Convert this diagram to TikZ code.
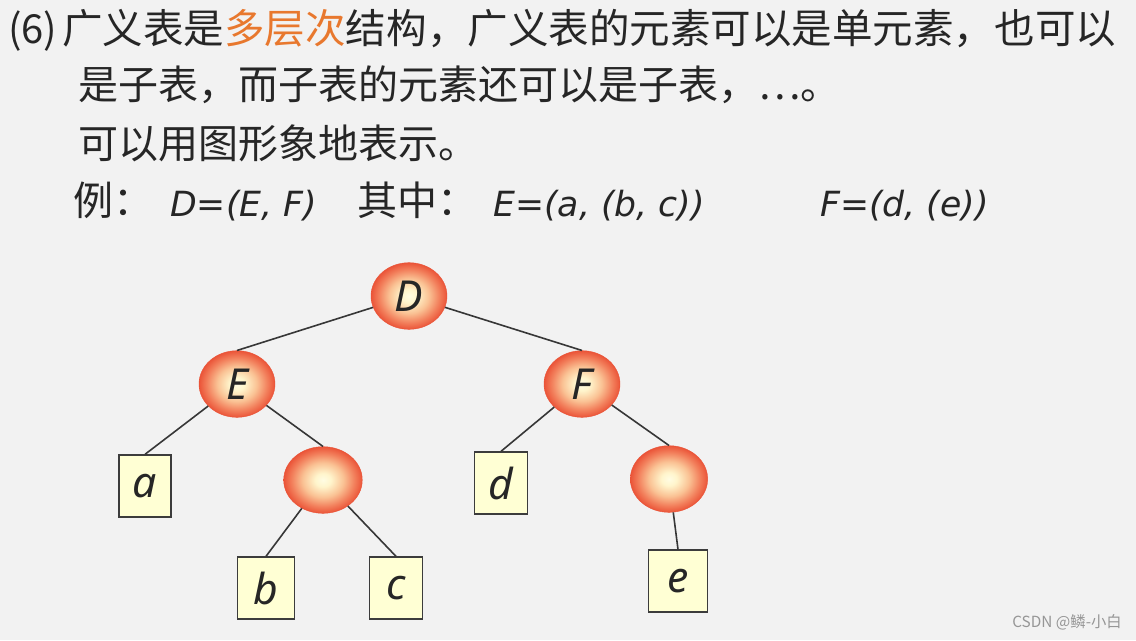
\documentclass[tikz,border=0pt]{standalone}
\usepackage{fontspec}
\setmainfont{Noto Sans CJK SC}
\newfontfamily\lat{Noto Sans}
\newfontfamily\formfont{DejaVu Sans}
\usetikzlibrary{shapes.geometric}
\definecolor{bg}{RGB}{242,242,242}
\definecolor{txt}{RGB}{38,38,38}
\definecolor{hl}{RGB}{232,120,46}
\definecolor{boxfill}{RGB}{255,255,212}
\definecolor{boxline}{RGB}{60,60,60}
\definecolor{edge}{RGB}{55,55,55}
\definecolor{wm}{RGB}{150,150,150}
\definecolor{ballrim}{RGB}{234,82,54}
\pgfdeclareradialshading{ballshade}{\pgfpoint{0bp}{0bp}}{%
  rgb(0bp)=(1,0.99,0.89);
  rgb(5bp)=(1,0.96,0.80);
  rgb(13bp)=(0.98,0.76,0.58);
  rgb(20bp)=(0.95,0.50,0.36);
  rgb(25bp)=(0.92,0.33,0.22);
  rgb(50bp)=(0.92,0.33,0.22)}
\tikzset{
  big/.style={font=\fontsize{30}{36}\selectfont, text=txt, inner sep=0pt},
  formula/.style={font=\fontsize{26}{32}\selectfont\formfont\itshape, text=txt, inner sep=0pt},
  ball/.style={ellipse, minimum width=57pt, minimum height=50pt, inner sep=0pt,
    shading=ballshade, draw=ballrim, line width=0.3pt,
    font=\fontsize{32}{38}\selectfont\lat\itshape, text=txt},
  leaf/.style={rectangle, minimum width=39pt, minimum height=46.5pt, inner sep=0pt,
    fill=boxfill, draw=boxline, line width=1pt,
    font=\fontsize{32}{38}\selectfont\lat\itshape, text=txt},
  link/.style={draw=edge, line width=1.2pt}
}
\begin{document}
\begin{tikzpicture}[x=0.75pt, y=-0.75pt]
\fill[bg] (0,0) rectangle (1136,640);
\useasboundingbox (0,0) rectangle (1136,640);
% text lines
\node[big, anchor=base west] (p6) at (8,43) {(6)};
\node[big, anchor=base west, font=\fontsize{30.4}{36}\selectfont] (l1) at (62,43) {广义表是\textcolor{hl}{多层次}结构，广义表的元素可以是单元素，也可以};
\node[big, anchor=base west] (l2) at (78,99) {是子表，而子表的元素还可以是子表，…。};
\node[big, anchor=base west] (l3) at (78,158) {可以用图形象地表示。};
\node[big, anchor=base west] (l4) at (73,215) {例：};
\node[formula, anchor=base west] (f1) at (170,216) {D=(E, F)};
\node[big, anchor=base west] (qz) at (357,215) {其中：};
\node[formula, anchor=base west] (f2) at (493,216) {E=(a, (b, c))};
\node[formula, anchor=base west] (f3) at (820,216) {F=(d, (e))};
% tree
\node[ball] (D) at (409,296) {D};
\node[ball] (E) at (237,384) {E};
\node[ball] (F) at (582,384) {F};
\node[ball, minimum width=59pt] (S1) at (323,480) {};
\node[ball, minimum width=58pt] (S2) at (669,479) {};
\node[leaf] (a) at (145,486) {a};
\node[leaf, minimum width=40pt] (d) at (501,483) {d};
\node[leaf, minimum width=42.5pt] (b) at (266,588) {b};
\node[leaf, minimum width=40pt] (c) at (396,588) {c};
\node[leaf, minimum width=44pt] (e) at (678,581) {e};
\draw[link] (D) -- (E.north);
\draw[link] (D) -- (F.north);
\draw[link] (E) -- (a.north);
\draw[link] (E) -- (S1.north);
\draw[link] (S1) -- (b.north);
\draw[link] (S1) -- (c.north);
\draw[link] (F) -- (d.north);
\draw[link] (F) -- (S2.north);
\draw[link] (S2) -- (e.north);
% watermark
\node[anchor=east, inner sep=0pt, font=\fontsize{11.5}{13}\selectfont, text=wm] (wmk) at (1122,622) {CSDN @鳞-小白};
\end{tikzpicture}
\end{document}
